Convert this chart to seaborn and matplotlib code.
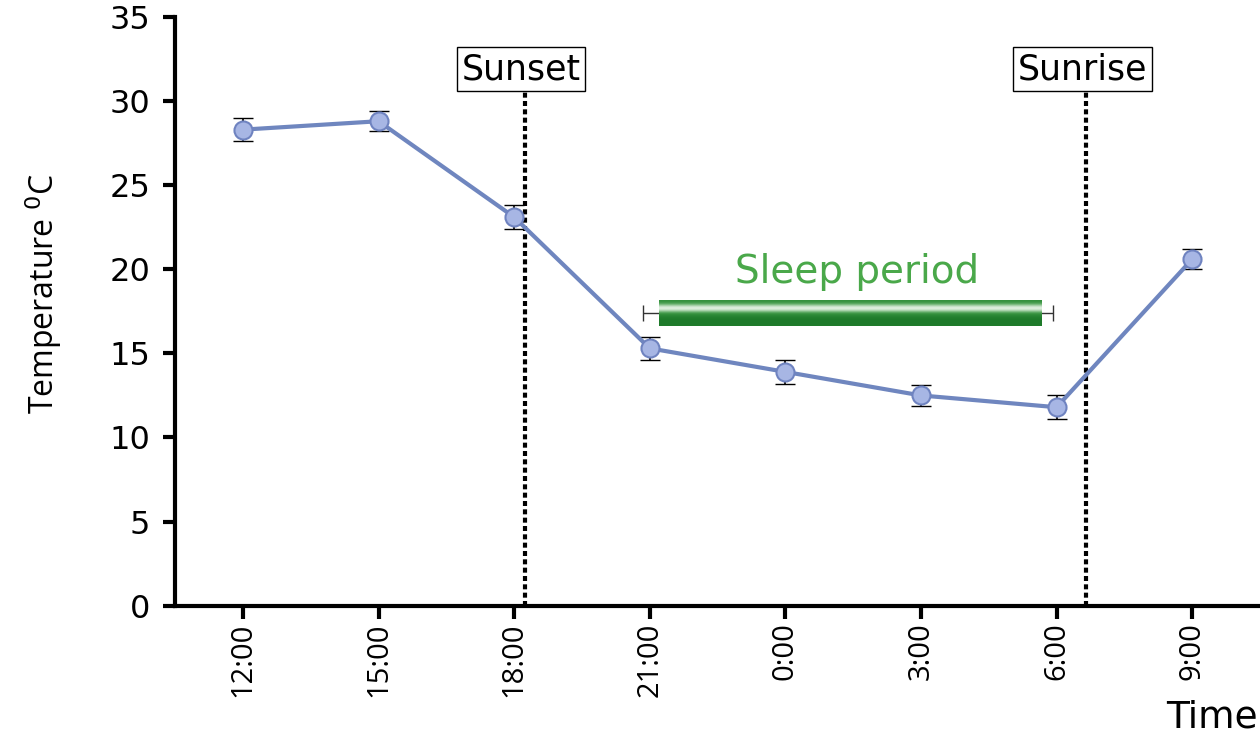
import numpy as np
import pandas as pd
from matplotlib import pyplot as plt
import seaborn as sns

times = ['12:00', '15:00', '18:00', '21:00', '0:00', '3:00', '6:00', '9:00']
temps = [28.3, 28.8, 23.1, 15.3, 13.9, 12.5, 11.8, 20.6]
errs = [0.7, 0.6, 0.7, 0.7, 0.7, 0.6, 0.7, 0.6]
yticks = [0, 5, 10, 15, 20, 25, 30, 35]

# event lines (in category units) and sleep bar
sunset_x, sunrise_x = 2.08, 6.22
sleep_start, sleep_end = 3.07, 5.89
sleep_whisk = [2.95, 5.97]
sleep_y, sleep_h = 17.4, 1.5

df = pd.DataFrame({'idx': np.arange(len(times)), 'temp': temps})

sns.set_style('white')
plt.rcParams['font.family'] = ['Open Sans', 'DejaVu Sans']
plt.rcParams['text.color'] = 'black'
plt.rcParams['axes.labelcolor'] = 'black'
plt.rcParams['xtick.color'] = 'black'
plt.rcParams['ytick.color'] = 'black'

fig = plt.figure(figsize=(12.6, 7.36), dpi=100)
ax = fig.add_axes([0.139, 0.177, 0.861, 0.8])

# event lines
for xv, lab in [(sunset_x, 'Sunset'), (sunrise_x, 'Sunrise')]:
    ax.plot([xv, xv], [0, 30.8], ls=(0, (1.2, 0.8)), color='black', lw=3, zorder=1)
    ax.text(xv - 0.03, 31.9, lab, ha='center', va='center', fontsize=25,
            family='DejaVu Sans',
            bbox=dict(boxstyle='square,pad=0.14', fc='white', ec='black', lw=1))

# sleep period bar with a glossy gradient
grad = np.array([0.35, 0.55, 0.85, 1.0, 0.8, 0.45, 0.2, 0.05, 0.0, 0.0, 0.02])
cmap = sns.blend_palette(['#1e7a2a', '#3d9a45', '#f2f8f0'], as_cmap=True)
ax.imshow(grad.reshape(-1, 1), cmap=cmap, aspect='auto', interpolation='bicubic',
          extent=[sleep_start, sleep_end, sleep_y - sleep_h / 2, sleep_y + sleep_h / 2],
          zorder=2)
ax.errorbar([np.mean(sleep_whisk)], [sleep_y], xerr=[(sleep_whisk[1] - sleep_whisk[0]) / 2],
            fmt='none', ecolor='#333333', elinewidth=1, capsize=6, zorder=1)
ax.text(4.53, 19.85, 'Sleep period', ha='center', va='center', fontsize=28,
        family='DejaVu Sans', color='#4aa84a')

# temperature line
ax.errorbar(df['idx'], df['temp'], yerr=errs, fmt='none', ecolor='black',
            elinewidth=1.2, capsize=7, zorder=3)
sns.lineplot(data=df, x='idx', y='temp', ax=ax, color='#6f86bf', lw=3,
             marker='o', markersize=13, markerfacecolor='#a7b6e4',
             markeredgecolor='#6f83c0', markeredgewidth=1.5, zorder=4)

ax.set_xlim(-0.5, 7.5)
ax.set_ylim(0, 35)
ax.set_yticks(yticks)
ax.set_yticklabels([str(v) for v in yticks], fontsize=23, family='DejaVu Sans')
ax.set_xticks(df['idx'])
ax.set_xticklabels(times, rotation=90, fontsize=21)
ax.set_xlabel('')
ax.set_ylabel('Temperature $^0$C', fontsize=23)
ax.yaxis.set_label_coords(-0.14, 0.53)
ax.yaxis.label.set_va('top')
ax.tick_params(axis='both', direction='out', length=9, width=3, color='black',
               bottom=True, left=True)
ax.tick_params(axis='y', pad=9)
ax.tick_params(axis='x', pad=3)
sns.despine(ax=ax)
for s in ['left', 'bottom']:
    ax.spines[s].set_linewidth(3)
    ax.spines[s].set_color('black')

fig.text(0.998, 0.025, 'Time', ha='right', va='center', fontsize=27,
         family='DejaVu Sans')

fig.savefig('out.png', dpi=100)
